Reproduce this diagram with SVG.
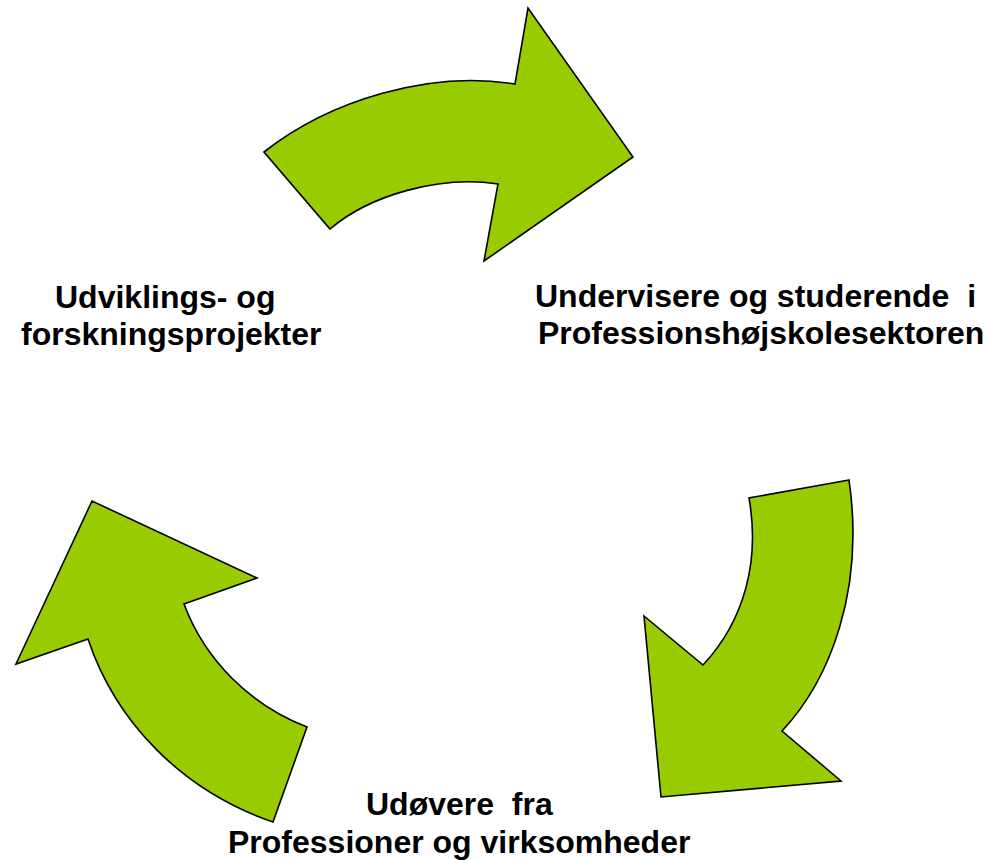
<svg xmlns="http://www.w3.org/2000/svg" width="985" height="860" viewBox="0 0 985 860">
<style>
.arrow{fill:#99CC00;stroke:#000;stroke-width:1.6;stroke-linejoin:miter}
.lbl{font-family:"Liberation Sans",Arial,sans-serif;font-weight:bold;font-size:32px;fill:#000;white-space:pre}
</style>
<rect width="985" height="860" fill="#fff"/>
<g id="connectors">
<path id="arrow-top" class="arrow" d="M264,152 C330,100 430,70 515,84 L528,8 L633,157 L484,261 L498,184 C440,175 370,195 330,229 Z"/>
<path id="arrow-right" class="arrow" d="M849,480 L749,498 C760,560 745,620 703,665 L644,616 L661,797 L841,781 L782,731 C830,680 865,590 849,480 Z"/>
<path id="arrow-left" class="arrow" d="M307,727 C250,705 205,660 184,604 L257,578 L92,501 L16,664 L88,639 C115,720 180,790 273,822 Z"/>
</g>
<g id="node-udvikling">
<text class="lbl" x="55" y="308">Udviklings- og</text>
<text class="lbl" x="21" y="345">forskningsprojekter</text>
</g>
<g id="node-undervisere">
<text class="lbl" x="535" y="307">Undervisere og studerende  i</text>
<text class="lbl" x="538" y="344">Professionshøjskolesektoren</text>
</g>
<g id="node-udovere">
<text class="lbl" x="366" y="815">Udøvere  fra</text>
<text class="lbl" x="228" y="853">Professioner og virksomheder</text>
</g>
</svg>
